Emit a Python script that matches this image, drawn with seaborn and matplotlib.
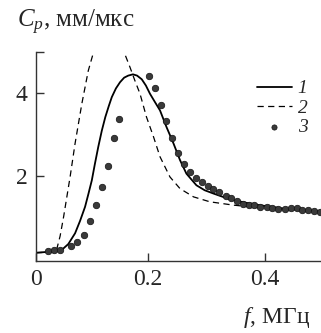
import matplotlib
matplotlib.use("Agg")
import matplotlib.pyplot as plt
import seaborn as sns
import numpy as np
import pandas as pd

# Curve 1 (solid)
f1 = [0.01, 0.03, 0.045, 0.054, 0.065, 0.0765, 0.085, 0.0935, 0.099, 0.105, 0.110,
      0.116, 0.122, 0.128, 0.134, 0.139, 0.146, 0.153, 0.160, 0.167, 0.175, 0.182,
      0.190, 0.197, 0.204, 0.212, 0.221, 0.232, 0.244, 0.255, 0.266, 0.283, 0.297,
      0.312, 0.328, 0.346, 0.37, 0.39, 0.43, 0.46, 0.495]
c1 = [0.15, 0.17, 0.19, 0.22, 0.36, 0.62, 0.92, 1.26, 1.56, 1.90, 2.28,
      2.71, 3.10, 3.43, 3.70, 3.91, 4.12, 4.27, 4.38, 4.43, 4.46, 4.43,
      4.34, 4.19, 3.99, 3.80, 3.59, 3.19, 2.79, 2.39, 2.06, 1.78, 1.66,
      1.58, 1.50, 1.42, 1.35, 1.30, 1.22, 1.18, 1.14]

# Curve 2 (dashed)
f2 = [0.01, 0.03, 0.040, 0.045, 0.051, 0.057, 0.068, 0.0765, 0.088, 0.099, 0.104,
      0.11, 0.12, 0.135, 0.15, 0.162, 0.170, 0.178, 0.187, 0.198, 0.21, 0.221,
      0.238, 0.255, 0.278, 0.306, 0.346, 0.38, 0.42, 0.46, 0.495]
c2 = [0.15, 0.16, 0.18, 0.22, 0.55, 1.02, 1.98, 2.79, 3.75, 4.55, 4.80,
      5.10, 5.45, 5.60, 5.40, 4.92, 4.63, 4.32, 3.99, 3.43, 2.95, 2.47,
      1.98, 1.70, 1.50, 1.38, 1.30, 1.25, 1.20, 1.17, 1.14]

# Series 3 (points)
f3 = [0.031, 0.041, 0.051, 0.070, 0.080, 0.091, 0.102, 0.112, 0.122, 0.132, 0.142,
      0.151, 0.202, 0.213, 0.222, 0.232, 0.242, 0.252, 0.262, 0.272, 0.282, 0.292,
      0.302, 0.312, 0.321, 0.333, 0.342, 0.352, 0.363, 0.372, 0.381, 0.392, 0.403,
      0.412, 0.422, 0.434, 0.444, 0.454, 0.463, 0.473, 0.483, 0.493]
c3 = [0.19, 0.21, 0.22, 0.31, 0.40, 0.57, 0.91, 1.31, 1.73, 2.24, 2.92,
      3.39, 4.41, 4.12, 3.73, 3.33, 2.93, 2.55, 2.29, 2.10, 1.96, 1.85,
      1.77, 1.70, 1.62, 1.53, 1.47, 1.39, 1.33, 1.30, 1.30, 1.26, 1.25,
      1.22, 1.20, 1.20, 1.22, 1.22, 1.18, 1.18, 1.16, 1.14]

xtick_pos = [0.01, 0.2, 0.4]
xtick_labels = ["0", "0.2", "0.4"]
ytick_pos = [2, 4, 5]
ytick_labels = ["2", "4", ""]

sns.set_style("ticks")
plt.rcParams["font.family"] = ["Liberation Serif", "DejaVu Serif"]
plt.rcParams["mathtext.fontset"] = "custom"
plt.rcParams["mathtext.it"] = "Liberation Serif:italic"
plt.rcParams["mathtext.rm"] = "Liberation Serif"

W, H = 321, 333
fig = plt.figure(figsize=(W / 100, H / 100), dpi=100)
ax = fig.add_axes([36 / W, 1 - 261 / H, (W - 36) / W, (261 - 52) / H])

d1 = pd.DataFrame({"f": f1, "c": c1})
d2 = pd.DataFrame({"f": f2, "c": c2})
d3 = pd.DataFrame({"f": f3, "c": c3})

sns.lineplot(data=d1, x="f", y="c", ax=ax, color="black", lw=1.3, label="1",
             sort=False)
sns.lineplot(data=d2, x="f", y="c", ax=ax, color="black", lw=0.9, label="2",
             sort=False, linestyle=(0, (5, 3.5)))
sns.scatterplot(data=d3, x="f", y="c", ax=ax, color="#3a3a3a", edgecolor="#111111",
                linewidth=0.5, s=22, label="3", zorder=3)

ax.set_xlim(0.01, 0.495)
ax.set_ylim(-0.05, 5.0)
ax.set_xticks(xtick_pos)
ax.set_xticklabels(xtick_labels)
ax.set_yticks(ytick_pos)
ax.set_yticklabels(ytick_labels)
ax.tick_params(direction="in", length=6, width=1, labelsize=17, color="#333333",
               pad=6)
for s in ["top", "right"]:
    ax.spines[s].set_visible(False)
for s in ["left", "bottom"]:
    ax.spines[s].set_linewidth(1.0)
    ax.spines[s].set_color("#333333")
ax.set_xlabel("")
ax.set_ylabel("")

fig.text(17 / W, 1 - 22 / H, "$C_p$, мм/мкс", fontsize=18, va="center", ha="left")
fig.text(243 / W, 1 - 317 / H, "$f$, МГц", fontsize=17, va="center", ha="left")

leg = ax.legend(loc="upper left", bbox_to_anchor=(247 / W, 1 - 70 / H),
                bbox_transform=fig.transFigure, frameon=False, fontsize=14,
                handlelength=1.8, handletextpad=0.3, labelspacing=0.1,
                borderpad=0, markerscale=0.8)
for t in leg.get_texts():
    t.set_fontstyle("italic")

fig.savefig("out.png", dpi=100)
